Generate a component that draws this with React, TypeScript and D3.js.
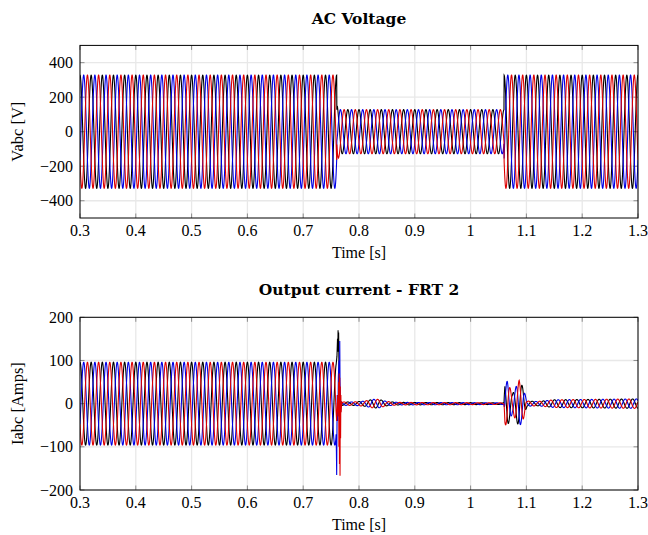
import React, { useEffect, useRef } from "react";
import * as d3 from "d3";

// axis ticks
const timeTicks = [0.3, 0.4, 0.5, 0.6, 0.7, 0.8, 0.9, 1.0, 1.1, 1.2, 1.3];
const voltTicks = [-400, -200, 0, 200, 400];
const currTicks = [-200, -100, 0, 100, 200];

// phases: black, blue, red (peak order in time)
const phaseColors = ["#000000", "#0000e6", "#dd0000"];
const phaseShiftDeg = [0, -120, -240];
const gridFreq = 50;

// voltage amplitude envelope
const voltEnvT = [0.3, 0.76, 0.7603, 1.0598, 1.0601, 1.3];
const voltEnvA = [328, 328, 128, 128, 328, 328];
// small disturbance on each phase right after the fault
const voltBumpT = [0.7603, 0.7615, 0.763, 0.766, 0.769];
const voltBumpBlack = [0, 28, 18, 6, 0];
const voltBumpBlue = [0, -10, -6, 0, 0];
const voltBumpRed = [0, -22, -26, -8, 0];

// current amplitude envelope
const currEnvT = [0.3, 0.759, 0.7695, 0.79, 0.81, 0.825, 0.835, 0.85, 0.87, 1.0598, 1.0615, 1.066, 1.075, 1.087, 1.094, 1.101, 1.12, 1.15, 1.3];
const currEnvA = [96, 96, 4, 4, 6, 10, 10, 5, 3, 2, 48, 52, 22, 54, 38, 6, 5, 9, 11];
const currFreqT = [0.3, 1.06, 1.1];
const currFreqF = [50, 62, 50];

// fault spike (0.759 - 0.7695 s) read point by point
const spikeBlackT = [0.759, 0.7605, 0.7615, 0.762, 0.7625, 0.763, 0.7635, 0.764, 0.765, 0.766, 0.767, 0.768, 0.7695];
const spikeBlackV = [90, 110, 150, 120, 170, 130, 165, 100, 40, 10, -5, 3, 0];
const spikeBlueT = [0.759, 0.7595, 0.76, 0.7605, 0.761, 0.762, 0.763, 0.764, 0.765, 0.7655, 0.766, 0.767, 0.768, 0.7695];
const spikeBlueV = [-71, -110, -165, -60, 20, -40, 60, 100, 30, 145, 50, -20, 5, 0];
const spikeRedT = [0.759, 0.76, 0.761, 0.762, 0.763, 0.7635, 0.764, 0.7645, 0.765, 0.7655, 0.766, 0.7665, 0.767, 0.7675, 0.768, 0.769, 0.7695];
const spikeRedV = [-20, -40, -10, 20, -30, 50, -100, 70, -140, 60, -167, 40, -80, 20, -20, 5, 0];

const piece = (ts: number[], vs: number[]) => (t: number) => {
  if (t <= ts[0]) return vs[0];
  if (t >= ts[ts.length - 1]) return vs[vs.length - 1];
  const i = d3.bisectRight(ts, t) - 1;
  const f = (t - ts[i]) / (ts[i + 1] - ts[i]);
  return vs[i] + f * (vs[i + 1] - vs[i]);
};
const step = (ts: number[], vs: number[]) => (t: number) => vs[Math.max(0, d3.bisectRight(ts, t) - 1)];

function buildPhase(
  env: (t: number) => number,
  freq: (t: number) => number,
  shift: number,
  bump: ((t: number) => number) | null,
  spikeT: number[] | null,
  spikeV: number[] | null
): [number, number][] {
  const dt = 0.0001;
  const pts: [number, number][] = [];
  let th = 0;
  const n = Math.round((1.3 - 0.3) / dt);
  for (let k = 0; k <= n; k++) {
    const t = 0.3 + k * dt;
    if (!(spikeT && t > spikeT[0] && t < spikeT[spikeT.length - 1])) {
      let v = env(t) * Math.cos(th + (shift * Math.PI) / 180);
      if (bump) v += bump(t);
      pts.push([t, v]);
    }
    th += 2 * Math.PI * freq(t) * dt;
  }
  if (spikeT && spikeV) spikeT.forEach((t, i) => pts.push([t, spikeV[i]]));
  pts.sort((a, b) => a[0] - b[0]);
  return pts;
}

const W = 648;
const H = 535;

export default function App() {
  const ref = useRef<SVGSVGElement>(null);

  useEffect(() => {
    const svg = d3.select(ref.current);
    svg.selectAll("*").remove();

    const font = "'Liberation Serif', 'Times New Roman', serif";
    const left = 80;
    const right = 638;

    const voltBumps = [piece(voltBumpT, voltBumpBlack), piece(voltBumpT, voltBumpBlue), piece(voltBumpT, voltBumpRed)];
    const spikesT = [spikeBlackT, spikeBlueT, spikeRedT];
    const spikesV = [spikeBlackV, spikeBlueV, spikeRedV];

    const voltSeries = phaseShiftDeg.map((s, i) =>
      buildPhase(piece(voltEnvT, voltEnvA), () => gridFreq, s, voltBumps[i], null, null)
    );
    const currSeries = phaseShiftDeg.map((s, i) =>
      buildPhase(piece(currEnvT, currEnvA), step(currFreqT, currFreqF), s, null, spikesT[i], spikesV[i])
    );

    const panels = [
      { top: 45.4, bottom: 218, domain: [-500, 500], ticks: voltTicks, title: "AC Voltage", titleY: 24, ylabel: "Vabc [V]", xlabY: 258, series: voltSeries, id: "v" },
      { top: 317.3, bottom: 490, domain: [-200, 200], ticks: currTicks, title: "Output current - FRT 2", titleY: 295, ylabel: "Iabc [Amps]", xlabY: 530, series: currSeries, id: "c" },
    ];

    panels.forEach((p) => {
      const x = d3.scaleLinear().domain([0.3, 1.3]).range([left, right]);
      const y = d3.scaleLinear().domain(p.domain).range([p.bottom, p.top]);
      const g = svg.append("g");

      g.append("clipPath").attr("id", "clip-" + p.id)
        .append("rect").attr("x", left).attr("y", p.top).attr("width", right - left).attr("height", p.bottom - p.top);

      // grid
      g.selectAll(".gx").data(timeTicks).join("line")
        .attr("x1", (d) => x(d)).attr("x2", (d) => x(d)).attr("y1", p.top).attr("y2", p.bottom)
        .attr("stroke", "#e8e8e8").attr("stroke-width", 1.3);
      g.selectAll(".gy").data(p.ticks).join("line")
        .attr("x1", left).attr("x2", right).attr("y1", (d) => y(d)).attr("y2", (d) => y(d))
        .attr("stroke", "#e8e8e8").attr("stroke-width", 1.3);

      // tick marks on all four sides
      const tk = 4.5;
      timeTicks.forEach((d) => {
        g.append("line").attr("x1", x(d)).attr("x2", x(d)).attr("y1", p.top).attr("y2", p.top + tk).attr("stroke", "#8c8c8c");
        g.append("line").attr("x1", x(d)).attr("x2", x(d)).attr("y1", p.bottom).attr("y2", p.bottom - tk).attr("stroke", "#8c8c8c");
      });
      p.ticks.forEach((d) => {
        g.append("line").attr("x1", left).attr("x2", left + tk).attr("y1", y(d)).attr("y2", y(d)).attr("stroke", "#8c8c8c");
        g.append("line").attr("x1", right).attr("x2", right - tk).attr("y1", y(d)).attr("y2", y(d)).attr("stroke", "#8c8c8c");
      });

      // waveforms
      const line = d3.line<[number, number]>().x((d) => x(d[0])).y((d) => y(d[1]));
      p.series.forEach((s, i) => {
        g.append("path").datum(s).attr("d", line).attr("fill", "none")
          .attr("stroke", phaseColors[i]).attr("stroke-width", 1.1)
          .attr("clip-path", `url(#clip-${p.id})`);
      });

      // frame
      g.append("rect").attr("x", left).attr("y", p.top).attr("width", right - left).attr("height", p.bottom - p.top)
        .attr("fill", "none").attr("stroke", "#000").attr("stroke-width", 1);

      // tick labels
      g.selectAll(".xl").data(timeTicks).join("text")
        .attr("x", (d) => x(d)).attr("y", p.bottom + 17.5)
        .attr("text-anchor", "middle").style("font-family", font).style("font-size", "16px")
        .text((d) => d3.format("")(+d.toFixed(1)));
      g.selectAll(".yl").data(p.ticks).join("text")
        .attr("x", left - 7).attr("y", (d) => y(d) + 5.5)
        .attr("text-anchor", "end").style("font-family", font).style("font-size", "16px")
        .text((d) => (d < 0 ? "\u2212" + Math.abs(d) : String(d)));

      // axis labels and title
      g.append("text").attr("x", (left + right) / 2).attr("y", p.xlabY)
        .attr("text-anchor", "middle").style("font-family", font).style("font-size", "16px").text("Time [s]");
      g.append("text").attr("transform", `translate(23, ${(p.top + p.bottom) / 2}) rotate(-90)`)
        .attr("text-anchor", "middle").style("font-family", font).style("font-size", "16.5px").text(p.ylabel);
      g.append("text").attr("x", (left + right) / 2).attr("y", p.titleY)
        .attr("text-anchor", "middle").style("font-family", "'DejaVu Serif', serif").style("font-weight", "bold")
        .style("font-size", "15.5px").text(p.title);
    });
  }, []);

  return (
    <div style={{ position: "absolute", left: 0, top: 0, width: W, height: H, background: "#fff" }}>
      <svg ref={ref} width={W} height={H} />
    </div>
  );
}
